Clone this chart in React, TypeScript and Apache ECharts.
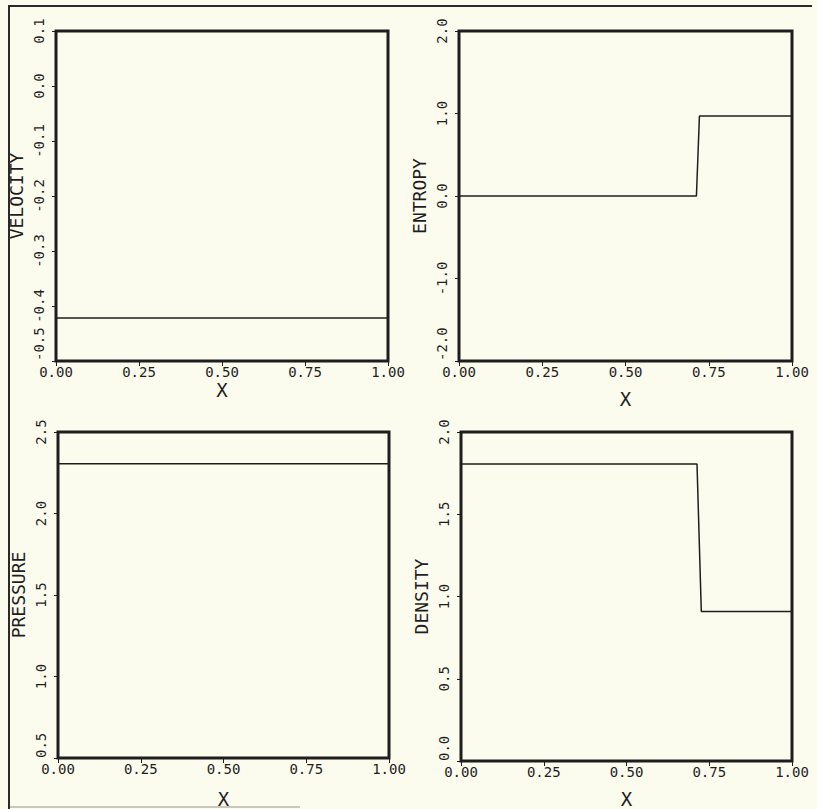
import React, { useEffect, useRef } from "react";
import * as echarts from "echarts";

const xTickLabels = ["0.00", "0.25", "0.50", "0.75", "1.00"];

const velocityX = [0, 1];
const velocityY = [-0.422, -0.422];

const entropyX = [0, 0.713, 0.722, 1.0];
const entropyY = [0, 0, 0.97, 0.97];

const pressureX = [0, 1];
const pressureY = [2.305, 2.305];

const densityX = [0, 0.713, 0.726, 1.0];
const densityY = [1.806, 1.806, 0.909, 0.909];

const panelNames = ["VELOCITY", "ENTROPY", "PRESSURE", "DENSITY"];
const yRanges = [
  { min: -0.5, max: 0.1, interval: 0.1 },
  { min: -2, max: 2, interval: 1 },
  { min: 0.5, max: 2.5, interval: 0.5 },
  { min: 0, max: 2, interval: 0.5 },
];

const INK = "#1e1e1e";
const BG = "#fbfbee";
const FONT = "DejaVu Sans Mono";

export default function App() {
  const ref = useRef<HTMLDivElement>(null);
  useEffect(() => {
    if (!ref.current) return;
    const chart = echarts.init(ref.current, null, { renderer: "svg" });
    const grids = [
      { left: 56, top: 31, width: 332, height: 330 },
      { left: 459, top: 31, width: 333, height: 330 },
      { left: 58, top: 432, width: 331, height: 330 },
      { left: 461, top: 432, width: 331, height: 330 },
    ];
    const xNameGaps = [19, 28, 31, 28];
    const seriesData = [
      velocityX.map((x, i) => [x, velocityY[i]]),
      entropyX.map((x, i) => [x, entropyY[i]]),
      pressureX.map((x, i) => [x, pressureY[i]]),
      densityX.map((x, i) => [x, densityY[i]]),
    ];
    const fmt1 = (v: number) => (Math.abs(v) < 1e-9 ? "0.0" : v.toFixed(1));
    chart.setOption({
      animation: false,
      backgroundColor: BG,
      grid: grids.map((g) => ({
        ...g,
        show: true,
        borderColor: INK,
        borderWidth: 3,
        backgroundColor: "transparent",
      })),
      xAxis: grids.map((_, i) => ({
        type: "value",
        gridIndex: i,
        min: 0,
        max: 1,
        interval: 0.25,
        name: "X",
        nameLocation: "middle",
        nameGap: xNameGaps[i],
        nameTextStyle: { fontFamily: FONT, fontSize: 19, color: INK, verticalAlign: "top" },
        axisLine: { show: false, onZero: false },
        axisTick: { show: true, length: 5, lineStyle: { color: INK, width: 1 } },
        splitLine: { show: false },
        axisLabel: {
          fontFamily: FONT,
          fontSize: 14,
          color: INK,
          margin: 4,
          formatter: (v: number) => xTickLabels[Math.round(v * 4)] ?? v.toFixed(2),
        },
      })),
      yAxis: grids.map((_, i) => ({
        type: "value",
        gridIndex: i,
        min: yRanges[i].min,
        max: yRanges[i].max,
        interval: yRanges[i].interval,
        name: panelNames[i],
        nameLocation: "middle",
        nameRotate: 90,
        nameGap: 31,
        nameTextStyle: { fontFamily: FONT, fontSize: 18, color: INK, verticalAlign: "bottom" },
        axisLine: { show: false, onZero: false },
        axisTick: { show: true, length: 4, lineStyle: { color: INK, width: 1 } },
        splitLine: { show: false },
        axisLabel: {
          fontFamily: FONT,
          fontSize: 14,
          color: INK,
          rotate: 90,
          margin: 10,
          alignMinLabel: "left",
          formatter: fmt1,
        },
      })),
      series: seriesData.map((d, i) => ({
        type: "line",
        xAxisIndex: i,
        yAxisIndex: i,
        data: d,
        showSymbol: false,
        symbol: "none",
        lineStyle: { color: INK, width: 1.5 },
      })),
      graphic: [
        { type: "line", shape: { x1: 9, y1: 6, x2: 9, y2: 809 }, style: { stroke: "#2a2a2a", lineWidth: 2 } },
        { type: "line", shape: { x1: 8, y1: 6, x2: 812, y2: 6 }, style: { stroke: "#2a2a2a", lineWidth: 2 } },
        { type: "line", shape: { x1: 10, y1: 807, x2: 300, y2: 807 }, style: { stroke: "#c8c8c0", lineWidth: 2 } },
      ],
    });
    return () => chart.dispose();
  }, []);
  return (
    <div
      ref={ref}
      style={{ position: "fixed", left: 0, top: 0, width: 817, height: 809 }}
    />
  );
}
